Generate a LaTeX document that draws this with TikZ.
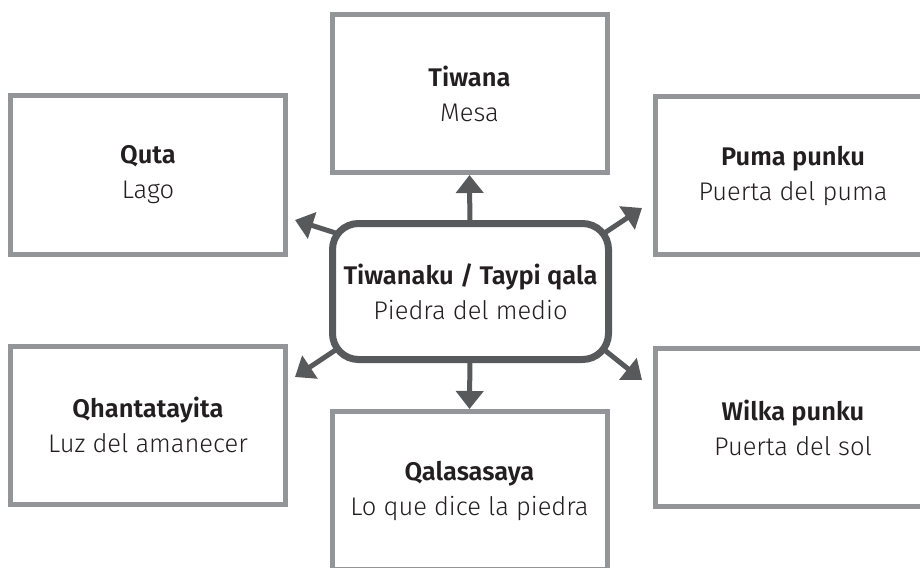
\documentclass[tikz,border=0pt]{standalone}
\usepackage{fontspec}
\setmainfont{Fira Sans}[UprightFont=* Light, BoldFont=* SemiBold]
\usetikzlibrary{arrows.meta,backgrounds}

\definecolor{framegray}{HTML}{939598}
\definecolor{hubgray}{HTML}{58595B}
\definecolor{inkblack}{HTML}{231F20}

\begin{document}
\begin{tikzpicture}[x=1pt, y=-1pt,
                    every node/.style={text=inkblack, align=center, font=\fontsize{25.5}{35}\selectfont},
                    place/.style={draw=framegray, line width=5pt, fill=white, inner sep=0pt,
                                  minimum width=275pt, minimum height=158pt},
                    hub/.style={draw=hubgray, line width=7pt, fill=white, inner sep=0pt,
                                rounded corners=26pt, minimum width=276pt, minimum height=136pt},
                    every edge/.style={draw=hubgray, line width=5pt},
                    >={Triangle[length=18pt, width=27pt]}]
\useasboundingbox (0,0) rectangle (920,567);
\clip (0,0) rectangle (920,567);

\node[hub] (hub) at (470.5,291.5) {\textbf{Tiwanaku / Taypi qala}\\Piedra del medio};

\node[place] (tiwana) at (469.5,93.5) {\textbf{Tiwana}\\Mesa};
\node[place] (quta) at (148,175) {\textbf{Quta}\\Lago};
\node[place] (puma) at (793,175.5) {\textbf{Puma punku}\\Puerta del puma};
\node[place] (qhanta) at (148,425) {\textbf{Qhantatayita}\\Luz del amanecer};
\node[place] (wilka) at (793,427.5) {\textbf{Wilka punku}\\Puerta del sol};
\node[place] (qala) at (469.5,490.5) {\textbf{Qalasasaya}\\Lo que dice la piedra};

\coordinate (ul0) at (345,236);
\coordinate (ur0) at (597,238);
\coordinate (ll0) at (343,345);
\coordinate (lr0) at (597,344);
\coordinate (ul) at (295,220);
\coordinate (ur) at (642,208);
\coordinate (ll) at (295,377);
\coordinate (lr) at (642,380);

\begin{scope}[on background layer]
\path[->]
(hub.center) edge (tiwana.south)
(hub.center) edge (qala.north)
(ul0) edge (ul)
(ur0) edge (ur)
(ll0) edge (ll)
(lr0) edge (lr);
\end{scope}
\end{tikzpicture}
\end{document}
